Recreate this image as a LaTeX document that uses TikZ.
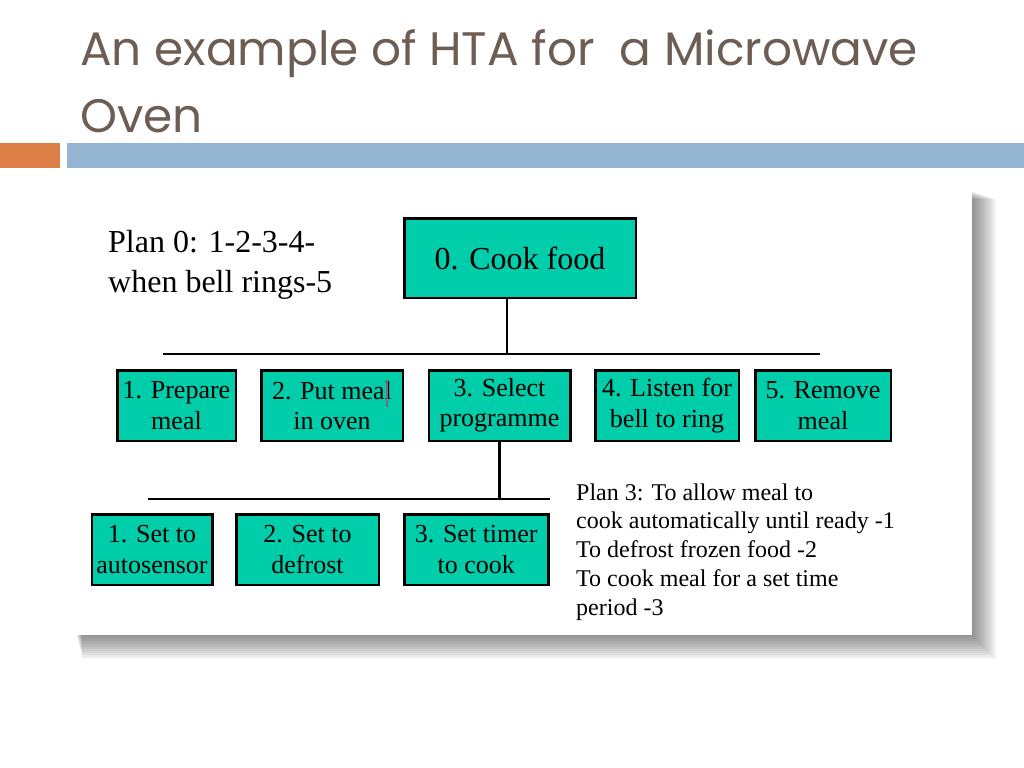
\documentclass[tikz,border=0pt]{standalone}
\usepackage{fontspec}
\setmainfont{Liberation Serif}
\newfontfamily\titlefont{Poppins}
\usetikzlibrary{calc}

\definecolor{titlebrown}{HTML}{6E5D52}
\definecolor{barorange}{HTML}{DD8047}
\definecolor{barblue}{HTML}{94B6D2}
\definecolor{hteal}{HTML}{00CDA9}

\tikzset{
  hbox/.style={draw=black, line width=2.5bp, fill=hteal, align=center,
    inner sep=0pt, minimum height=70.5bp,
    font=\fontsize{26bp}{30.5bp}\selectfont},
  link/.style={line width=2.5bp},
  plantext/.style={align=left, inner sep=0pt, anchor=base west}
}

\begin{document}
\begin{tikzpicture}[x=1bp,y=-1bp]
  \useasboundingbox (0,0) rectangle (1024,768);

  % Title and bars
  \node[plantext, text=titlebrown, font=\titlefont\fontsize{47bp}{66bp}\selectfont] (title) at (80,132)
    {An example of HTA for\ \ a Microwave\\Oven};
  \fill[barorange] (0,143) rectangle (60,168);
  \fill[barblue] (67,143) rectangle (1024,168);

  % Panel with its shadow
  \foreach \s in {2,4,...,24}
    \fill[black, opacity=0.045] (76+\s/4,191+\s/3) rectangle (972+\s,635+\s);
  \fill[white] (75,190) rectangle (972,635);

  % Top task
  \node[hbox, minimum width=231.5bp, minimum height=79.5bp, font=\fontsize{32bp}{36bp}\selectfont]
    (cook) at (520,258) {0. Cook food};

  % Subtasks of 0
  \node[hbox, minimum width=118.5bp] (prepare) at (176.5,405.5) {1. Prepare\\meal};
  \node[hbox, minimum width=141.5bp] (putmeal) at (332,405.5) {2. Put meal\\in oven};
  \node[hbox, minimum width=141.5bp] (select) at (499.5,405.5) {3. Select\\programme};
  \node[hbox, minimum width=143.5bp] (listen) at (667,405.5) {4. Listen for\\bell to ring};
  \node[hbox, minimum width=135.5bp] (remove) at (823,405.5) {5. Remove\\meal};

  % Subtasks of 3
  \node[hbox, minimum width=120.5bp] (auto) at (152,549.5) {1. Set to\\autosensor};
  \node[hbox, minimum width=142.5bp] (defrost) at (307.5,549.5) {2. Set to\\defrost};
  \node[hbox, minimum width=144bp] (timer) at (476.25,549.5) {3. Set timer\\to cook};

  % cursor mark left in box 2
  \draw[line width=1.8bp, color=gray!80!violet] (387,380) -- (387,407);

  % Connectors
  \coordinate (barAl) at (163,353.5);
  \coordinate (barAr) at (820,353.5);
  \coordinate (drop) at (507,353.5);
  \draw[line width=2bp] (barAl) -- (barAr);
  \draw[line width=2bp] (cook.south -| drop) -- (drop);

  \coordinate (barBl) at (148,499);
  \coordinate (barBr) at (550,499);
  \draw[link] (barBl) -- (barBr);
  \draw[link] (select.south) -- (select.south |- barBl);

  % Plans
  \node[plantext, font=\fontsize{32bp}{40bp}\selectfont] (plan0) at (108,292)
    {Plan 0: 1-2-3-4-\\when bell rings-5};
  \node[plantext, font=\fontsize{24bp}{28.7bp}\selectfont] (plan3) at (576,615)
    {Plan 3: To allow meal to\\cook automatically until ready -1\\To defrost frozen food -2\\To cook meal for a set time\\period -3};
\end{tikzpicture}
\end{document}
